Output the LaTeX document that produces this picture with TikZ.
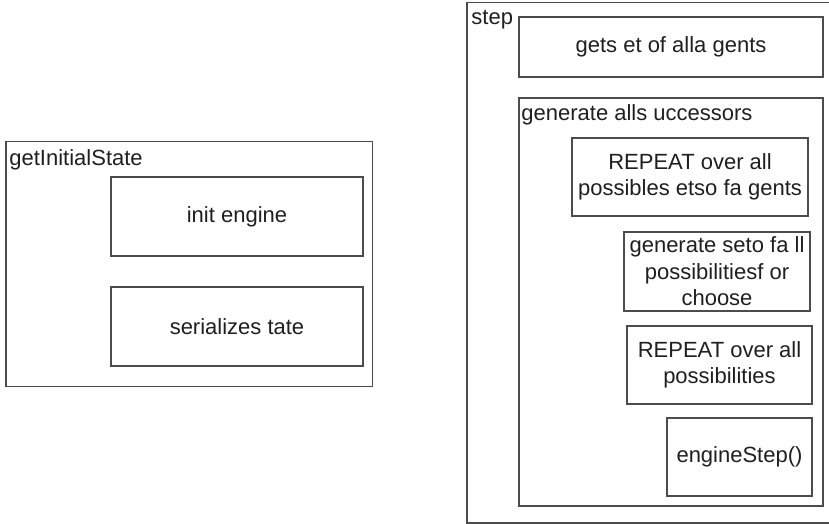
\documentclass[tikz,border=0pt]{standalone}
\usepackage{fontspec}
\setmainfont{Liberation Sans}
\begin{document}
\begin{tikzpicture}[x=0.5pt,y=-0.5pt,
    frame/.style={draw=black!70,line width=0.6pt,inner sep=0pt,rectangle},
    task/.style={frame,align=center,font=\fontsize{11}{13.3}\selectfont,text=black!88},
    title/.style={anchor=base west,inner sep=0pt,font=\fontsize{11}{13.3}\selectfont,text=black!88}]
  \useasboundingbox (0,0) rectangle (829,524);
  % getInitialState
  \node[frame,minimum width=183.35pt,minimum height=122.6pt] (init) at (189.35,264.1) {};
  \node[title] (initlabel) at (9,165) {getInitialState};
  \node[task,minimum width=126pt,minimum height=39.5pt] (engine) at (237,216.5) {init engine};
  \node[task,minimum width=126pt,minimum height=39.5pt] (serialize) at (237,326.5) {serializes tate};
  % step
  \node[frame,minimum width=186.5pt,minimum height=260.25pt] (step) at (653.5,262.75) {};
  \node[title] (steplabel) at (471,24.5) {step};
  \node[task,minimum width=152pt,minimum height=30pt] (agents) at (671,47) {gets et of alla gents};
  \node[frame,minimum width=152pt,minimum height=204pt] (successors) at (671,302) {};
  \node[title] (successorslabel) at (521,120) {generate alls uccessors};
  \node[task,minimum width=118pt,minimum height=39pt] (repeatagents) at (690,177) {REPEAT over all\\possibles etso fa gents};
  \node[task,minimum width=93pt,minimum height=39.5pt] (possibilities) at (717,271.5) {generate seto fa ll\\possibilitiesf or\\choose};
  \node[task,minimum width=92.5pt,minimum height=39pt] (repeatposs) at (719.5,365) {REPEAT over all\\possibilities};
  \node[task,minimum width=72.5pt,minimum height=39pt] (enginestep) at (739.5,457) {engineStep()};
\end{tikzpicture}
\end{document}
